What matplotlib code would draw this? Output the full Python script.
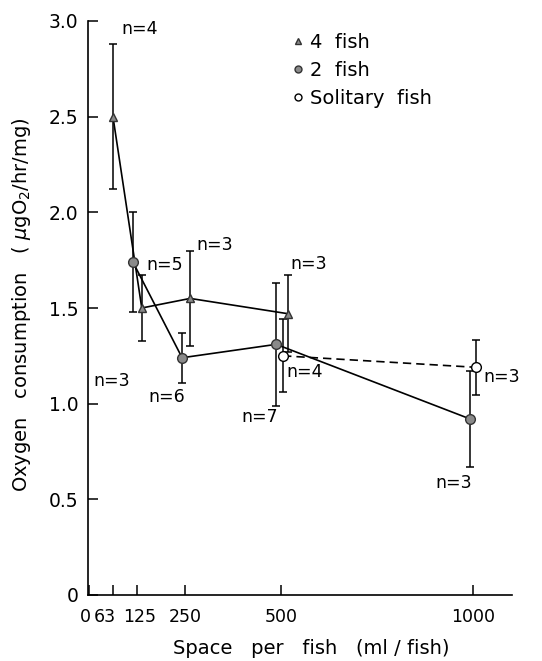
#!/usr/bin/python

# oxygen consumption vs space per fish, redrawn from the scanned figure

import matplotlib
matplotlib.use('Agg')
import matplotlib.pyplot as plt
import matplotlib.transforms as mtransforms
from matplotlib.lines import Line2D

# values
tick_pos = [0, 63, 125, 250, 500, 1000]
tick_labels = ['0', '63', '125', '250', '500', '1000']

# 4 fish (triangles)
four_x = [63, 138, 264, 519]
four_y = [2.50, 1.50, 1.55, 1.47]
four_err = [0.38, 0.17, 0.25, 0.20]
four_n = ['n=4', 'n=3', 'n=3', 'n=3']

# 2 fish (grey circles)
two_x = [115, 243, 488, 993]
two_y = [1.74, 1.24, 1.31, 0.92]
two_err = [0.26, 0.13, 0.32, 0.25]
two_n = ['n=5', 'n=6', 'n=7', 'n=3']

# solitary fish (open circles)
sol_x = [506, 1008]
sol_y = [1.25, 1.19]
sol_err = [0.19, 0.145]
sol_n = ['n=4', 'n=3']

plt.rcParams['font.family'] = ['DejaVu Sans']
plt.rcParams['font.size'] = 12

fig = plt.figure(figsize=(5.42, 6.61), dpi=100)
ax = fig.add_axes([88 / 542, 1 - 595 / 661, 424 / 542, 574 / 661])

grey = '#8a8a8a'
ebkw = dict(ecolor='black', elinewidth=1.1, capsize=3, capthick=1.1)

ax.errorbar(four_x, four_y, yerr=four_err, fmt='-', color='black', lw=1.2,
            marker='^', ms=6, mfc=grey, mec='#333333', **ebkw)
ax.errorbar(two_x, two_y, yerr=two_err, fmt='-', color='black', lw=1.2,
            marker='o', ms=7, mfc=grey, mec='#333333', **ebkw)
ax.errorbar(sol_x, sol_y, yerr=sol_err, fmt='--', color='black', lw=1.2,
            dashes=(5, 3), marker='o', ms=7, mfc='white', mec='black', **ebkw)

# n labels, offsets in pixels from each point
four_off = [(27, 88), (-30, -73), (25, 53), (21, 50)]
two_off = [(32, -3), (-15, -39), (-17, -73), (-16, -64)]
sol_off = [(22, -16), (26, -10)]
for xs, ys, labs, offs in [(four_x, four_y, four_n, four_off),
                           (two_x, two_y, two_n, two_off),
                           (sol_x, sol_y, sol_n, sol_off)]:
    for x, y, lab, off in zip(xs, ys, labs, offs):
        ax.annotate(lab, (x, y), xytext=off, textcoords='offset pixels',
                    ha='center', va='center', fontsize=12.5)

ax.set_xlim(-2, 1102)
ax.set_ylim(0, 3.0)
ax.set_xticks(tick_pos)
ax.set_xticklabels(tick_labels, fontsize=12.5)
ax.set_yticks([0, 0.5, 1.0, 1.5, 2.0, 2.5, 3.0])
ax.set_yticklabels(['0', '0.5', '1.0', '1.5', '2.0', '2.5', '3.0'], fontsize=13.5)
ax.tick_params(direction='in', length=7, width=1.1)
ax.tick_params(axis='x', pad=9)
ax.tick_params(axis='y', pad=7)

# the crowded labels near zero are nudged apart, as in the scan
nudge = [-3, -8, 3, 0, 0, 0]
for lab, dx in zip(ax.get_xticklabels(), nudge):
    lab.set_transform(lab.get_transform() +
                      mtransforms.ScaledTranslation(dx / 100, 0, fig.dpi_scale_trans))

for side in ['top', 'right']:
    ax.spines[side].set_visible(False)
for side in ['left', 'bottom']:
    ax.spines[side].set_linewidth(1.2)

ax.set_xlabel('Space   per   fish   (ml / fish)', fontsize=14, va='center')
ax.xaxis.set_label_coords((311 - 88) / 424, -(648 - 595) / 574)
ax.set_ylabel('Oxygen   consumption   ( $\\mu$gO$_2$/hr/mg)', fontsize=14,
              va='center')
ax.yaxis.set_label_coords(-(88 - 22) / 424, (595 - 305) / 574)

handles = [
    Line2D([], [], ls='none', marker='^', ms=5, mfc=grey, mec='#333333'),
    Line2D([], [], ls='none', marker='o', ms=5, mfc=grey, mec='#333333'),
    Line2D([], [], ls='none', marker='o', ms=5, mfc='white', mec='black'),
]
ax.legend(handles, ['4  fish', '2  fish', 'Solitary  fish'], frameon=False,
          loc='upper left', bbox_to_anchor=(290 / 542, 1 - 33 / 661),
          bbox_transform=fig.transFigure, handlelength=0.8, handletextpad=0.25,
          labelspacing=0.45, borderaxespad=0, borderpad=0, fontsize=14)

plt.savefig('out.png', dpi=100)
plt.close('all')
